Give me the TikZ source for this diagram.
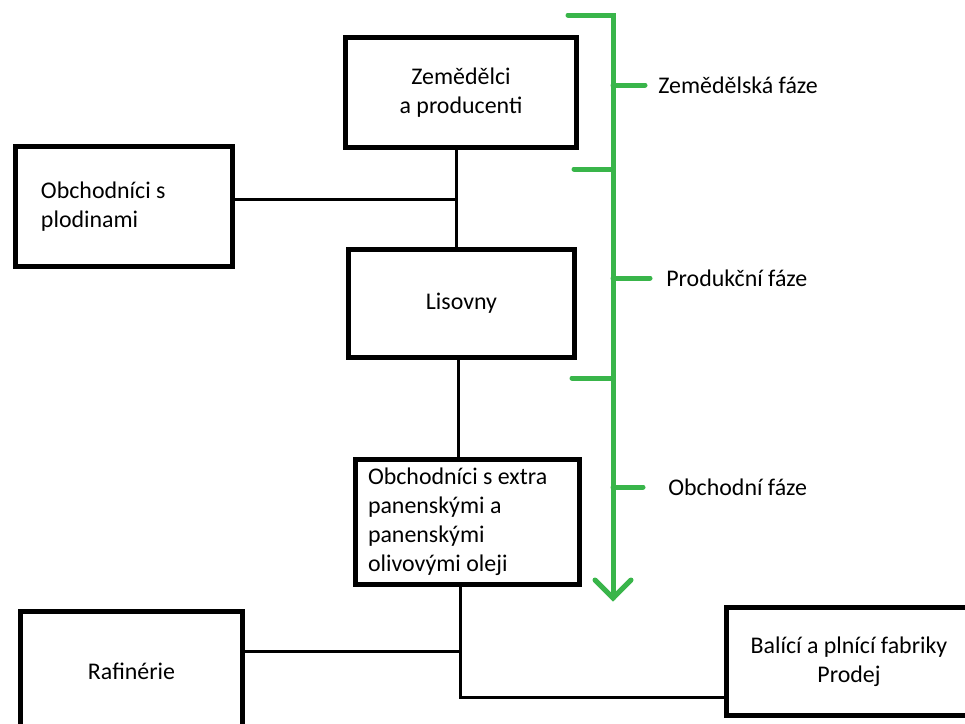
\documentclass[tikz,border=0pt]{standalone}
\usepackage{fontspec}
\setmainfont{Carlito}
\definecolor{phasegreen}{RGB}{57,181,74}

\begin{document}
\begin{tikzpicture}[x=0.2mm,y=-0.2mm,
		box/.style={draw,line width=1mm,inner sep=0pt,align=center},
		link/.style={line width=0.6mm},
		phase/.style={draw=phasegreen,line width=1mm,line cap=round}]
	% Text size for this sheet
	\tikzstyle{every node}=[font=\fontsize{13.6pt}{16.5pt}\selectfont]

	% keep the sheet as large as the drawing
	\useasboundingbox (0,0) rectangle (965,724);
	\clip (0,0) rectangle (965,724);

	% the boxes of the chain
	\node[box,minimum width=46.2mm,minimum height=22mm] (farmers) at (461,92.5) {Zemědělci\\a producenti};
	\node[box,minimum width=43.4mm,minimum height=24mm,text width=33.2mm,align=flush left] (traders) at (124,206.5) {Obchodníci s\\plodinami};
	\node[box,minimum width=45.2mm,minimum height=21.6mm] (mills) at (461.5,303.5) {Lisovny};
	\node[box,minimum width=44.8mm,minimum height=25mm,text width=39.8mm,align=flush left] (oiltraders) at (467.5,522) {Obchodníci s extra\\panenskými a\\panenskými\\olivovými oleji};
	\node[box,minimum width=44.4mm,minimum height=23.8mm] (refinery) at (131.5,671) {Rafinérie};
	\node[box,minimum width=49mm,minimum height=21.6mm] (packers) at (849,661.5) {Balící a plnící fabriky\\Prodej};

	% junctions of the lines
	\coordinate (j1) at (456,199);
	\coordinate (j2) at (460,651);
	\coordinate (j3) at (460,697);

	% draw the lines between the boxes
	\draw[link] (farmers.south -| j1) -- (mills.north -| j1);
	\draw[link] (traders.east |- j1) -- (j1);
	\draw[link] (mills.south -| 458,0) -- (oiltraders.north -| 458,0);
	\draw[link] (oiltraders.south -| j2) -- (j3) -- (packers.west |- j3);
	\draw[link] (refinery.east |- j2) -- (j2);

	% the green phase axis with its arrow
	\coordinate (top) at (613,15);
	\coordinate (tip) at (613,598);
	\draw[phase] (568,15) -- (top) -- (tip);
	\draw[phase] (595,580) -- (tip) -- (631,580);
	% ticks between the phases
	\foreach \y / \x in {169/574, 378/572} {
		\draw[phase] (\x,\y) -- (613,\y);
	}
	% label each phase
	% y: height, xend: end of tick, xtext: start of label
	\foreach \y / \xend / \xtext / \name / \label in
	{
		85 / 645 / 658 / agri / Zemědělská fáze,
		278 / 650 / 666 / prod / Produkční fáze,
		487 / 643 / 668 / trade / Obchodní fáze
	} {
		\draw[phase] (613,\y) -- (\xend,\y);
		\node[anchor=west,inner sep=0pt] (\name) at (\xtext,\y) {\label};
	}
\end{tikzpicture}
\end{document}
